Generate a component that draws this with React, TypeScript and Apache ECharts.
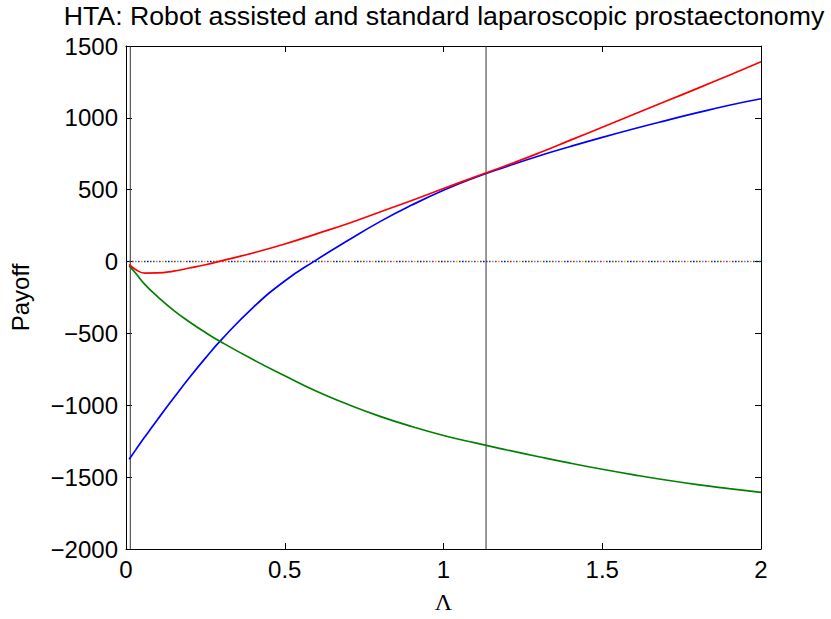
import React, { useEffect, useRef } from "react";
import * as echarts from "echarts";

const titleText = "HTA: Robot assisted and standard laparoscopic prostaectonomy";
const xTicks = [0, 0.5, 1, 1.5, 2];
const yTicks = [-2000, -1500, -1000, -500, 0, 500, 1000, 1500];

const lambda = [0.01, 0.03, 0.06, 0.1, 0.15, 0.2, 0.25, 0.3, 0.4, 0.5, 0.6, 0.7, 0.8, 0.9, 1.0, 1.1, 1.2, 1.3, 1.4, 1.5, 1.6, 1.7, 1.8, 1.9, 2.0];
const redPayoff = [-20, -55, -80, -79, -66, -45, -22, 5, 60, 122, 193, 265, 345, 425, 508, 590, 670, 755, 845, 935, 1025, 1115, 1205, 1297, 1390];
const bluePayoff = [-1375, -1312, -1218, -1097, -950, -807, -672, -545, -320, -135, 12, 148, 278, 393, 496, 585, 662, 735, 801, 864, 924, 981, 1036, 1088, 1133];
const greenPayoff = [-30, -80, -160, -245, -340, -420, -493, -560, -682, -795, -903, -995, -1077, -1148, -1210, -1262, -1311, -1358, -1403, -1445, -1484, -1520, -1552, -1580, -1606];

const verticalLines = [0.0135, 1.134];
const zeroLineColors = ["#0000ff", "#008000", "#ff0000", "#00bfbf", "#bf00bf", "#bfbf00", "#404040"];

const FONT = "Liberation Sans";

export default function App() {
  const ref = useRef<HTMLDivElement>(null);
  useEffect(() => {
    if (!ref.current) return;
    const chart = echarts.init(ref.current, undefined, { renderer: "svg" });
    const xMin = xTicks[0];
    const xMax = xTicks[xTicks.length - 1];
    const yMin = yTicks[0];
    const yMax = yTicks[yTicks.length - 1];
    const zip = (ys: number[]) => lambda.map((x, i) => [x, ys[i]]);
    const axisLine = { show: true, onZero: false, lineStyle: { color: "#000", width: 1 } };
    const axisTick = { show: true, inside: true, length: 6, lineStyle: { color: "#000", width: 1 } };
    const minus = (v: number) => String(v).replace("-", "\u2212");

    const period = 3;
    const zeroSeries = zeroLineColors.map((c, i) => ({
      type: "line",
      data: [[xMin, 0], [xMax, 0]],
      symbol: "none",
      silent: true,
      lineStyle: { color: c, width: 1.4, type: [1.6, period * zeroLineColors.length - 1.6], dashOffset: -i * period },
      z: 1,
    }));
    const vSeries = verticalLines.map((x) => ({
      type: "line",
      data: [[x, yMin], [x, yMax]],
      symbol: "none",
      silent: true,
      lineStyle: { color: "#333", width: 1 },
      z: 2,
    }));
    const curve = (ys: number[], color: string) => ({
      type: "line",
      data: zip(ys),
      symbol: "none",
      smooth: 0.5,
      lineStyle: { color, width: 1.7 },
      z: 3,
    });

    chart.setOption({
      animation: false,
      backgroundColor: "#fff",
      grid: { left: 124, right: 70, top: 46, bottom: 66, containLabel: false },
      graphic: [
        {
          type: "text",
          x: 444,
          y: 3,
          style: {
            text: titleText,
            font: `26.7px "${FONT}"`,
            fill: "#000",
            align: "center",
            verticalAlign: "top",
            lineHeight: 26,
          },
        },
      ],
      xAxis: [
        {
          type: "value",
          min: xMin,
          max: xMax,
          interval: 0.5,
          position: "bottom",
          axisLine,
          axisTick,
          splitLine: { show: false },
          axisLabel: { color: "#000", fontSize: 24, fontFamily: FONT, margin: 8 },
          name: "\u039b",
          nameLocation: "middle",
          nameGap: 41,
          nameTextStyle: { color: "#000", fontSize: 24, fontFamily: "Liberation Serif" },
        },
        {
          type: "value",
          min: xMin,
          max: xMax,
          interval: 0.5,
          position: "top",
          axisLine,
          axisTick,
          splitLine: { show: false },
          axisLabel: { show: false },
        },
      ],
      yAxis: [
        {
          type: "value",
          min: yMin,
          max: yMax,
          interval: 500,
          position: "left",
          axisLine,
          axisTick,
          splitLine: { show: false },
          axisLabel: { color: "#000", fontSize: 24, fontFamily: FONT, margin: 8, formatter: minus },
          name: "Payoff",
          nameLocation: "middle",
          nameGap: 94,
          nameTextStyle: { color: "#000", fontSize: 24, fontFamily: FONT },
        },
        {
          type: "value",
          min: yMin,
          max: yMax,
          interval: 500,
          position: "right",
          axisLine,
          axisTick,
          splitLine: { show: false },
          axisLabel: { show: false },
        },
      ],
      series: [
        ...zeroSeries,
        ...vSeries,
        curve(bluePayoff, "#0000ff"),
        curve(greenPayoff, "#008000"),
        curve(redPayoff, "#ff0000"),
      ],
    });
    return () => chart.dispose();
  }, []);
  return (
    <div
      ref={ref}
      style={{ position: "fixed", left: 0, top: 0, width: 831, height: 619, background: "#fff" }}
    />
  );
}
